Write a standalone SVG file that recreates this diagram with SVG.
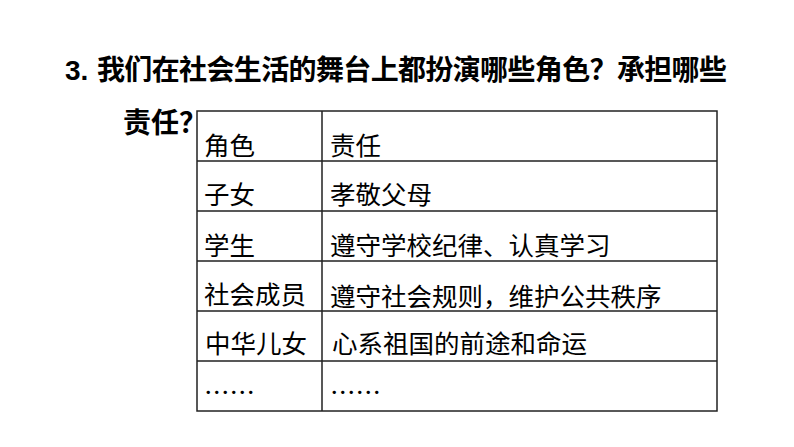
<svg xmlns="http://www.w3.org/2000/svg" width="794" height="447" viewBox="0 0 794 447">
<style>
.t{font-family:"Noto Sans CJK SC","Liberation Sans",sans-serif;fill:#000}
.h{font-size:28px;font-weight:bold}
.c{font-size:25.5px}
.l{stroke:#222;stroke-width:1.5;fill:none}
</style>
<rect width="794" height="447" fill="#fff"/>
<g id="title">
<text class="t h" x="65" y="80" style="font-family:'Liberation Sans',sans-serif">3.</text>
<text class="t h" x="97" y="80" textLength="630">我们在社会生活的舞台上都扮演哪些角色？承担哪些</text>
<text class="t h" x="123" y="133">责任？</text>
</g>
<g id="grid">
<rect class="l" x="197" y="111" width="520" height="300"/>
<path class="l" d="M322 111V411M197 161H717M197 211H717M197 261H717M197 311H717M197 361H717"/>
</g>
<g id="cells" class="t c">
<text x="204" y="155">角色</text><text x="330" y="155">责任</text>
<text x="204" y="204">子女</text><text x="330" y="204">孝敬父母</text>
<text x="204" y="255">学生</text><text x="330" y="255">遵守学校纪律、认真学习</text>
<text x="204" y="304">社会成员</text><text x="330" y="306">遵守社会规则，维护公共秩序</text>
<text x="205" y="353">中华儿女</text><text x="332" y="353">心系祖国的前途和命运</text>
<text x="204" y="402">……</text><text x="330" y="402">……</text>
</g>
</svg>
